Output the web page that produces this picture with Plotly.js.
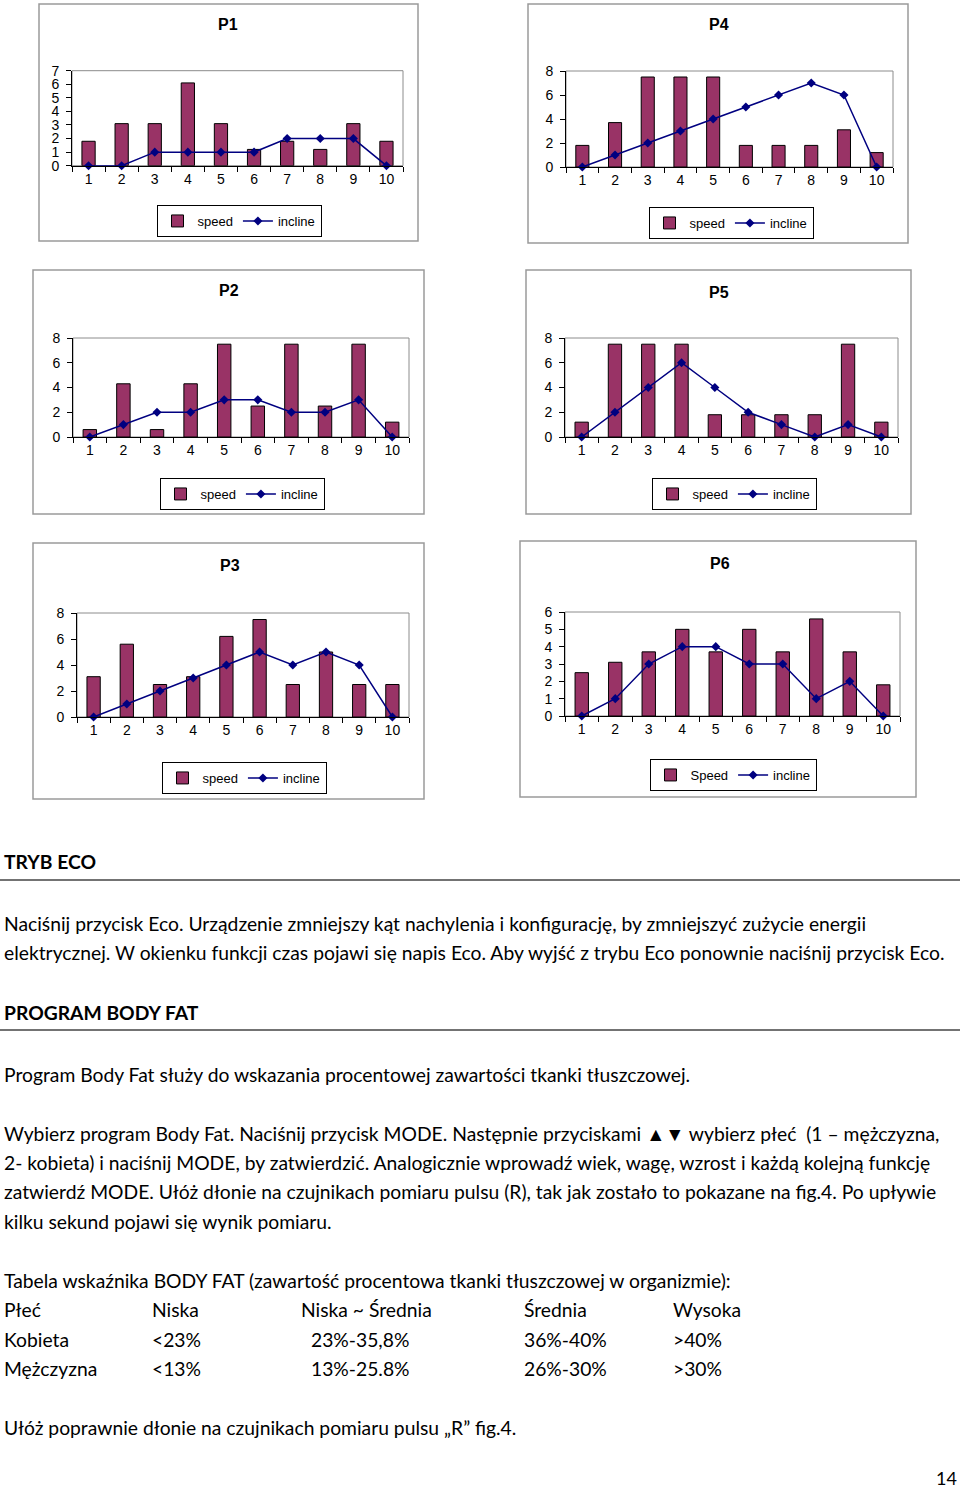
<!DOCTYPE html>
<html>
<head>
<meta charset="utf-8">
<script src="https://cdn.plot.ly/plotly-3.0.1.min.js"></script>
<style>html,body{margin:0;padding:0;background:#fff;}#chart{width:960px;height:1492px;}</style>
</head>
<body>
<div id="chart"></div>
<script>
// ---------- data ----------
const categories = [1, 2, 3, 4, 5, 6, 7, 8, 9, 10];
const programNames = ["P1", "P2", "P3", "P4", "P5", "P6"];
const speedLabels = ["speed", "speed", "speed", "speed", "speed", "Speed"];
const inclineLabel = "incline";

const p1Speed   = [1.8, 3.1, 3.1, 6.1, 3.1, 1.2, 1.8, 1.2, 3.1, 1.8];
const p1Incline = [0, 0, 1, 1, 1, 1, 2, 2, 2, 0];
const p2Speed   = [0.6, 4.3, 0.6, 4.3, 7.5, 2.5, 7.5, 2.5, 7.5, 1.2];
const p2Incline = [0, 1, 2, 2, 3, 3, 2, 2, 3, 0];
const p3Speed   = [3.1, 5.6, 2.5, 3.1, 6.2, 7.5, 2.5, 5.0, 2.5, 2.5];
const p3Incline = [0, 1, 2, 3, 4, 5, 4, 5, 4, 0];
const p4Speed   = [1.8, 3.7, 7.5, 7.5, 7.5, 1.8, 1.8, 1.8, 3.1, 1.2];
const p4Incline = [0, 1, 2, 3, 4, 5, 6, 7, 6, 0];
const p5Speed   = [1.2, 7.5, 7.5, 7.5, 1.8, 1.8, 1.8, 1.8, 7.5, 1.2];
const p5Incline = [0, 2, 4, 6, 4, 2, 1, 0, 1, 0];
const p6Speed   = [2.5, 3.1, 3.7, 5.0, 3.7, 5.0, 3.7, 5.6, 3.7, 1.8];
const p6Incline = [0, 1, 3, 4, 4, 3, 3, 1, 2, 0];

const yMax  = [7, 8, 8, 8, 8, 6];
const yStep = [1, 2, 2, 2, 2, 1];

const tableHeader = ["Płeć", "Niska", "Niska ~ Średnia", "Średnia", "Wysoka"];
const tableWomen  = ["Kobieta", "<23%", "23%-35,8%", "36%-40%", ">40%"];
const tableMen    = ["Mężczyzna", "<13%", "13%-25.8%", "26%-30%", ">30%"];

const speeds   = [p1Speed, p2Speed, p3Speed, p4Speed, p5Speed, p6Speed];
const inclines = [p1Incline, p2Incline, p3Incline, p4Incline, p5Incline, p6Incline];

// ---------- layout geometry (pixels) ----------
const W = 960, H = 1492;
const fx = v => v / W;
const fy = v => 1 - v / H;
// plot areas [left, right, top, bottom]
const plotBox = [
  [72, 403, 70.7, 165.7],   // P1
  [73, 409, 338, 437],      // P2
  [77, 409, 613, 717],      // P3
  [566, 893, 71, 167],      // P4
  [565, 898, 338, 437],     // P5
  [565, 900, 612, 716]      // P6
];
const frameBox = [
  [39, 418, 4, 241],
  [33, 424, 270, 514],
  [33, 424, 543, 799],
  [528, 908, 4, 243],
  [526, 911, 270, 514],
  [520, 916, 541, 797]
];
const titlePos  = [[228, 25], [229, 291], [230, 565], [719, 25], [719, 292], [720, 563]];
const legendPos = [[239, 221], [242, 494], [244, 778], [731, 223], [734, 494], [733, 775]];

const chartFont = "Liberation Sans, Arial, sans-serif";
const textFont = "Lato, Noto Sans, sans-serif";

const data = [];
const layout = {
  width: W, height: H,
  margin: {l: 0, r: 0, t: 0, b: 0},
  paper_bgcolor: "#fff", plot_bgcolor: "#fff",
  showlegend: true,
  bargap: 0,
  shapes: [], annotations: []
};

for (let i = 0; i < 6; i++) {
  const n = i === 0 ? "" : String(i + 1);
  const xa = "x" + n, ya = "y" + n;
  const lg = i === 0 ? "legend" : "legend" + (i + 1);
  data.push({
    type: "bar", x: categories, y: speeds[i], name: speedLabels[i],
    xaxis: xa, yaxis: ya, legend: lg, width: 0.4,
    marker: {color: "#993366", line: {color: "#000", width: 1}},
    hoverinfo: "y"
  });
  data.push({
    type: "scatter", mode: "lines+markers", x: categories, y: inclines[i], name: inclineLabel,
    xaxis: xa, yaxis: ya, legend: lg, cliponaxis: false,
    line: {color: "#000080", width: 1.5},
    marker: {symbol: "diamond", size: 7, color: "#000080"},
    hoverinfo: "y"
  });
  const [l, r, t, b] = plotBox[i];
  layout["xaxis" + n] = {
    domain: [fx(l), fx(r)], anchor: ya, range: [0.5, 10.5],
    tickmode: "array", tickvals: categories, ticks: "",
    showline: true, linecolor: "#000", linewidth: 1,
    showgrid: false, zeroline: false, fixedrange: true,
    tickfont: {family: chartFont, size: 14, color: "#000"},
    minor: {tickmode: "array", tickvals: categories.map(c => c - 0.5).concat([categories.length + 0.5]),
            ticks: "outside", ticklen: 5, tickcolor: "#000", showgrid: false}
  };
  layout["yaxis" + n] = {
    domain: [fy(b), fy(t)], anchor: xa, range: [0, yMax[i]], dtick: yStep[i], tick0: 0,
    ticks: "outside", ticklen: 5, tickcolor: "#000", ticklabelstandoff: 4,
    showline: true, linecolor: "#000", linewidth: 1,
    showgrid: false, zeroline: false, fixedrange: true,
    tickfont: {family: chartFont, size: 14, color: "#000"}
  };
  layout[lg] = {
    x: fx(legendPos[i][0]), y: fy(legendPos[i][1]), xanchor: "center", yanchor: "middle",
    orientation: "h", bordercolor: "#000", borderwidth: 1, bgcolor: "#fff",
    font: {family: chartFont, size: 13, color: "#000"}, itemwidth: 30,
    traceorder: "normal", tracegroupgap: 0
  };
  // plot area border
  layout.shapes.push({type: "rect", xref: xa + " domain", yref: ya + " domain", x0: 0, x1: 1, y0: 0, y1: 1,
    line: {color: "#8c8c8c", width: 1}, layer: "below"});
  // outer frame
  const [fl, fr, ft, fb] = frameBox[i];
  layout.shapes.push({type: "rect", xref: "paper", yref: "paper", x0: fx(fl), x1: fx(fr), y0: fy(fb), y1: fy(ft),
    line: {color: "#9a9a9a", width: 1.5}, layer: "below"});
  layout.annotations.push({xref: "paper", yref: "paper", x: fx(titlePos[i][0]), y: fy(titlePos[i][1]),
    xanchor: "center", yanchor: "middle", showarrow: false, text: "<b>" + programNames[i] + "</b>",
    font: {family: chartFont, size: 16, color: "#000"}});
}

// ---------- document text ----------
const addText = (x, y, txt, opts = {}) => layout.annotations.push(Object.assign({
  xref: "paper", yref: "paper", x: fx(x - 2), y: fy(y), xanchor: "left", yanchor: "middle",
  showarrow: false, text: txt, font: {family: textFont, size: 19.3, color: "#000"}
}, opts));

addText(4, 861, "<b>TRYB ECO</b>");
layout.shapes.push({type: "line", xref: "paper", yref: "paper", x0: 0, x1: 1, y0: fy(880), y1: fy(880), line: {color: "#444", width: 1.5}});
addText(4, 923, "Naciśnij przycisk Eco. Urządzenie zmniejszy kąt nachylenia i konfigurację, by zmniejszyć zużycie energii");
addText(4, 952, "elektrycznej. W okienku funkcji czas pojawi się napis Eco. Aby wyjść z trybu Eco ponownie naciśnij przycisk Eco.");
addText(4, 1012, "<b>PROGRAM BODY FAT</b>");
layout.shapes.push({type: "line", xref: "paper", yref: "paper", x0: 0, x1: 1, y0: fy(1030), y1: fy(1030), line: {color: "#444", width: 1.5}});
addText(4, 1074, "Program Body Fat służy do wskazania procentowej zawartości tkanki tłuszczowej.");
addText(4, 1133, "Wybierz program Body Fat. Naciśnij przycisk MODE. Następnie przyciskami ▲▼ wybierz płeć  (1 – mężczyzna,");
addText(4, 1162, "2- kobieta) i naciśnij MODE, by zatwierdzić. Analogicznie wprowadź wiek, wagę, wzrost i każdą kolejną funkcję");
addText(4, 1191, "zatwierdź MODE. Ułóż dłonie na czujnikach pomiaru pulsu (R), tak jak zostało to pokazane na fig.4. Po upływie");
addText(4, 1221, "kilku sekund pojawi się wynik pomiaru.");
addText(4, 1280, "Tabela wskaźnika BODY FAT (zawartość procentowa tkanki tłuszczowej w organizmie):");
const colX = [4, 152, 301, 524, 673];
const colXData = [4, 152, 311, 524, 673];
tableHeader.forEach((t, j) => addText(colX[j], 1309, t));
tableWomen.forEach((t, j) => addText(colXData[j], 1339, t));
tableMen.forEach((t, j) => addText(colXData[j], 1368, t));
addText(4, 1427, "Ułóż poprawnie dłonie na czujnikach pomiaru pulsu „R” fig.4.");
addText(936, 1478, "14", {xanchor: "left", font: {family: textFont, size: 18, color: "#000"}});

Plotly.newPlot("chart", data, layout, {staticPlot: true, displayModeBar: false});
</script>
</body>
</html>
